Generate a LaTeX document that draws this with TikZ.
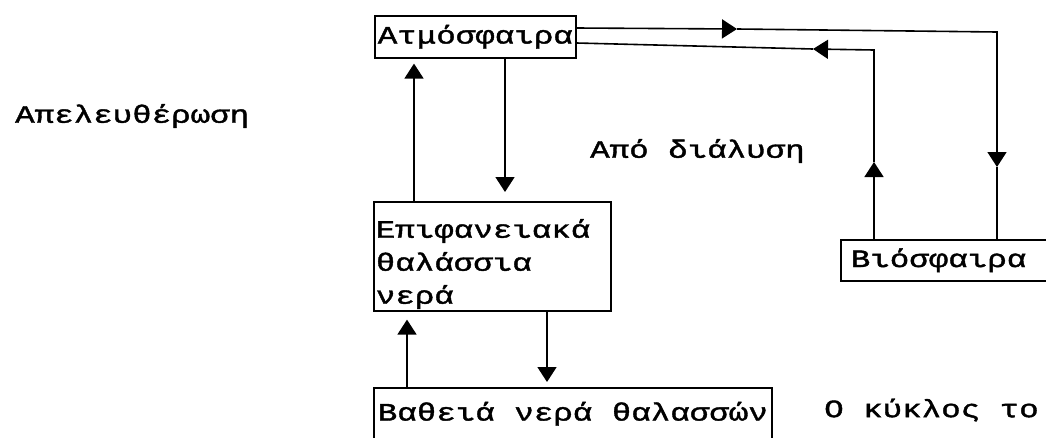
\documentclass[tikz,border=0pt]{standalone}
\usepackage{fontspec}
\newfontfamily\tw[FakeStretch=1.3, FakeBold=1.6]{Liberation Mono}
\usetikzlibrary{arrows.meta}
\tikzset{
  every node/.style={font=\tw\fontsize{25}{33}\selectfont},
  box/.style={draw, line width=1.6pt, rectangle, anchor=north west, inner ysep=0pt},
  label/.style={inner sep=0pt, anchor=west},
  flow/.style={line width=1.6pt},
  arr/.style={flow, -{Triangle[length=15pt,width=19pt]}},
}
\begin{document}
\begin{tikzpicture}[x=1pt, y=-1pt]
  \useasboundingbox (0,0) rectangle (1046,437);
  \fill[white] (0,0) rectangle (1046,437);
  \clip (0,0) rectangle (1046,437);

  % reservoirs
  \node[box, minimum width=197pt, minimum height=42pt, inner xsep=3pt] (atm) at (374,15) {Ατμόσφαιρα};
  \node[box, text width=233pt, inner xsep=2pt, minimum height=109pt, align=left] (surf) at (373,201)
    {\rule{0pt}{34pt}Επιφανειακά\\θαλάσσια\\νερά};
  \node[box, inner xsep=4pt, minimum height=52pt] (deep) at (373,387)
    {Βαθειά νερά θαλασσών};
  \node[box, text width=200pt, inner xsep=10pt, minimum height=41pt, align=left] (bio) at (840,239)
    {Βιόσφαιρα};

  % free labels
  \node[label] (rel) at (15,116) {Απελευθέρωση};
  \node[label] (dis) at (590,151) {Από διάλυση};
  \node[label] (cyc) at (824,410) {Ο κύκλος το};

  % ocean exchanges
  \draw[arr, shorten >=5pt] ([xshift=41pt]surf.north west) -- ([xshift=40pt]atm.south west);
  \draw[arr, shorten >=9pt] ([xshift=131pt]atm.south west) -- ([xshift=132pt]surf.north west);
  \draw[arr, shorten >=8pt] ([xshift=34pt]deep.north west) -- ([xshift=34pt]surf.south west);
  \draw[arr, shorten >=5pt] ([xshift=174pt]surf.south west) -- ([xshift=174pt]deep.north west);

  % atmosphere to biosphere
  \coordinate (a1) at ([yshift=-13pt]atm.north east);
  \coordinate (m1) at (737,29);
  \coordinate (c1) at (997,32);
  \coordinate (m2) at (997,167);
  \coordinate (b1) at ([xshift=157pt]bio.north west);
  \draw[arr] (a1) -- (m1);
  \draw[arr] (m1) -- (c1) -- (m2);
  \draw[flow] (m2) -- (b1);

  % biosphere to atmosphere
  \coordinate (b2) at ([xshift=34pt]bio.north west);
  \coordinate (m3) at (874,162);
  \coordinate (c2) at (874,50);
  \coordinate (m4) at (813,49);
  \coordinate (a2) at ([yshift=-28pt]atm.north east);
  \draw[arr] (b2) -- (m3);
  \draw[arr] (m3) -- (c2) -- (m4);
  \draw[flow] (m4) -- (a2);
\end{tikzpicture}
\end{document}
